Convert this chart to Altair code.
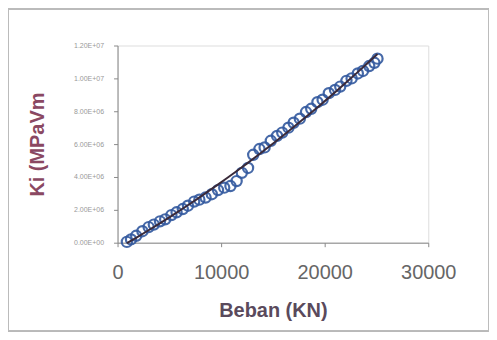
import altair as alt
import pandas as pd

beban = [900, 1300, 1800, 2400, 3000, 3500, 4100, 4600, 5200, 5700, 6300, 6800,
         7400, 7900, 8500, 9100, 9700, 10300, 10900, 11500, 12000, 12600, 13100,
         13700, 14200, 14800, 15400, 15900, 16500, 17000, 17600, 18200, 18700,
         19300, 19800, 20400, 21000, 21500, 22100, 22600, 23200, 23700, 24300,
         24800, 25100]
ki = [0.05e6, 0.2e6, 0.42e6, 0.7e6, 0.95e6, 1.1e6, 1.3e6, 1.42e6, 1.68e6, 1.85e6,
      2.05e6, 2.25e6, 2.5e6, 2.62e6, 2.75e6, 2.95e6, 3.2e6, 3.35e6, 3.45e6, 3.75e6,
      4.25e6, 4.55e6, 5.35e6, 5.7e6, 5.8e6, 6.2e6, 6.5e6, 6.7e6, 7.0e6, 7.3e6,
      7.55e6, 7.95e6, 8.15e6, 8.55e6, 8.7e6, 9.1e6, 9.3e6, 9.5e6, 9.85e6, 10.0e6,
      10.3e6, 10.45e6, 10.75e6, 10.95e6, 11.2e6]
x_ticks = [0, 10000, 20000, 30000]
y_ticks = [0, 2e6, 4e6, 6e6, 8e6, 10e6, 12e6]

df = pd.DataFrame({"Beban": beban, "Ki": ki})

W, H = 312, 198
PL, PT, PR, PB = 110, 37, 61, 89

xs = alt.Scale(domain=[0, 30000], nice=False)
ys = alt.Scale(domain=[0, 12e6], nice=False)

x_enc = alt.X("Beban:Q", scale=xs, title="Beban (KN)",
              axis=alt.Axis(values=x_ticks, tickCount=len(x_ticks), grid=False,
                            format="d", domainColor="#888", tickColor="#888",
                            tickSize=4, labelFontSize=20, labelColor="#666",
                            labelFont="Liberation Sans", labelPadding=16,
                            labelOverlap=False, labelFlush=False,
                            titleFont="Liberation Sans", titleFontSize=20,
                            titleFontWeight="bold", titleColor="#5a4a5c",
                            titlePadding=18))
y_enc = alt.Y("Ki:Q", scale=ys, title="Ki (MPaVm",
              axis=alt.Axis(values=y_ticks, tickCount=len(y_ticks), grid=False,
                            labelExpr="replace(format(datum.value, '.2e'), 'e+', 'E+0')",
                            domainColor="#888", tickColor="#888", tickSize=4,
                            labelFontSize=7, labelColor="#999",
                            labelFont="Liberation Sans", labelPadding=10,
                            labelOverlap=False, labelFlush=False,
                            titleFont="Liberation Sans", titleFontSize=20,
                            titleFontWeight="bold", titleColor="#8a4862",
                            titlePadding=26))

pts = alt.Chart(df).mark_point(shape="circle", size=105, filled=False,
                               strokeWidth=2.2, color="#33599f",
                               opacity=0.9).encode(x=x_enc, y=y_enc)

trend = alt.Chart(df).transform_regression(
    "Beban", "Ki", method="poly", order=2
).mark_line(color="#3a2a3a", strokeWidth=2).encode(x="Beban:Q", y="Ki:Q")

border = alt.Chart(df).mark_rect(fill=None, stroke="#bbb", strokeWidth=1).encode(
    x=alt.value(-PL + 0.5), x2=alt.value(W + PR - 0.5),
    y=alt.value(-PT + 0.5), y2=alt.value(H + PB - 0.5))

chart = alt.layer(border, pts, trend).properties(
    width=W, height=H,
    autosize=alt.AutoSizeParams(type="none"),
    padding={"left": PL, "top": PT, "right": PR, "bottom": PB},
).configure_view(stroke=None).configure(background="white")

chart.save("out.html", embed_options={"renderer": "svg", "actions": False})
